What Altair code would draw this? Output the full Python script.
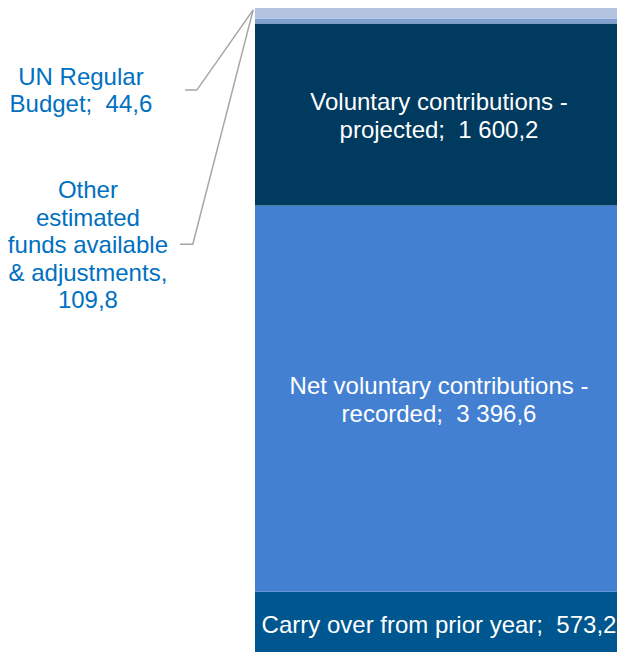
import altair as alt
import pandas as pd

# ---- data ----
segments = [
    "Carry over from prior year",
    "Net voluntary contributions - recorded",
    "Voluntary contributions - projected",
    "UN Regular Budget",
    "Other estimated funds available & adjustments",
]
values = [573.2, 3396.6, 1600.2, 44.6, 109.8]
colors = ["#00568e", "#4480d2", "#003a5e", "#7fa0cf", "#b3c3e0"]
inside_text = [
    "Carry over from prior year;\u00a0 573,2",
    "Net voluntary contributions -\nrecorded;\u00a0 3 396,6",
    "Voluntary contributions -\nprojected;\u00a0 1 600,2",
    "",
    "",
]

# outside labels (blue) with leader lines
outside_names = ["UN Regular Budget", "Other estimated funds available & adjustments"]
outside_text = ["UN Regular\nBudget;\u00a0 44,6", "Other\nestimated\nfunds available\n& adjustments,\n109,8"]
outside_x = [-0.473, -0.454]
outside_y = [4980, 3620]
leader_x = [[-0.190, -0.158, -0.005], [-0.204, -0.169, -0.005]]
leader_y = [[4985, 4985, 5690], [3630, 3630, 5690]]

# ---- scales (bar runs past the right and bottom edge of the window, as in the reference) ----
W, H = 609, 644
px_per_y = 0.1137
LH_IN, LH_OUT = 28, 27.5

df = pd.DataFrame({"segment": segments, "value": values, "color": colors, "label": inside_text})
df["y1"] = df["value"].cumsum()
df["y0"] = df["y1"] - df["value"]
nlines = df["label"].str.count("\n")
# Vega anchors the first line of a multi-line text; shift so the block is centred
df["ym"] = (df["y0"] + df["y1"]) / 2 + nlines * LH_IN / 2 / px_per_y
df["x0"] = 0.0
df["x1"] = 1.0
df["xm"] = 0.5
total = float(df["y1"].iloc[-1])

lab = pd.DataFrame({"segment": outside_names, "label": outside_text, "x": outside_x, "y": outside_y})
lab["y"] = lab["y"] + lab["label"].str.count("\n") * LH_OUT / 2 / px_per_y
rows = []
for name, xs_, ys_ in zip(outside_names, leader_x, leader_y):
    for i, (xx, yy) in enumerate(zip(xs_, ys_)):
        rows.append({"segment": name, "i": i, "x": xx, "y": yy})
lead = pd.DataFrame(rows)

top_px = 6 - 8          # top of the bar relative to the view
d1 = total + top_px / px_per_y
d0 = d1 - H / px_per_y
left_px, px_per_x = 255 - 8, 368
a = -left_px / px_per_x
b = a + W / px_per_x

xs = alt.Scale(domain=[a, b], nice=False, zero=False)
ys = alt.Scale(domain=[d0, d1], nice=False, zero=False)

bars = alt.Chart(df).mark_rect(clip=True).encode(
    x=alt.X("x0:Q", scale=xs, axis=None),
    x2="x1:Q",
    y=alt.Y("y0:Q", scale=ys, axis=None),
    y2="y1:Q",
    color=alt.Color("color:N", scale=None),
)

inside = alt.Chart(df).mark_text(
    color="white", font="Liberation Sans", fontSize=24, lineHeight=LH_IN,
    lineBreak="\n", align="center", baseline="middle", dy=2,
).encode(
    x=alt.X("xm:Q", scale=xs, axis=None),
    y=alt.Y("ym:Q", scale=ys, axis=None),
    text="label:N",
)

lines = alt.Chart(lead).mark_line(color="#a6a6a6", strokeWidth=1.5).encode(
    x=alt.X("x:Q", scale=xs, axis=None),
    y=alt.Y("y:Q", scale=ys, axis=None),
    detail="segment:N",
    order="i:Q",
)

outside = alt.Chart(lab).mark_text(
    color="#0070c0", font="Liberation Sans", fontSize=24, lineHeight=LH_OUT,
    lineBreak="\n", align="center", baseline="middle", dy=1,
).encode(
    x=alt.X("x:Q", scale=xs, axis=None),
    y=alt.Y("y:Q", scale=ys, axis=None),
    text="label:N",
)

chart = alt.layer(bars, lines, inside, outside).properties(
    width=W, height=H, padding=0, autosize="none", background="white"
).configure_view(stroke=None)

chart.save("out.html", embed_options={"renderer": "svg", "actions": False})
